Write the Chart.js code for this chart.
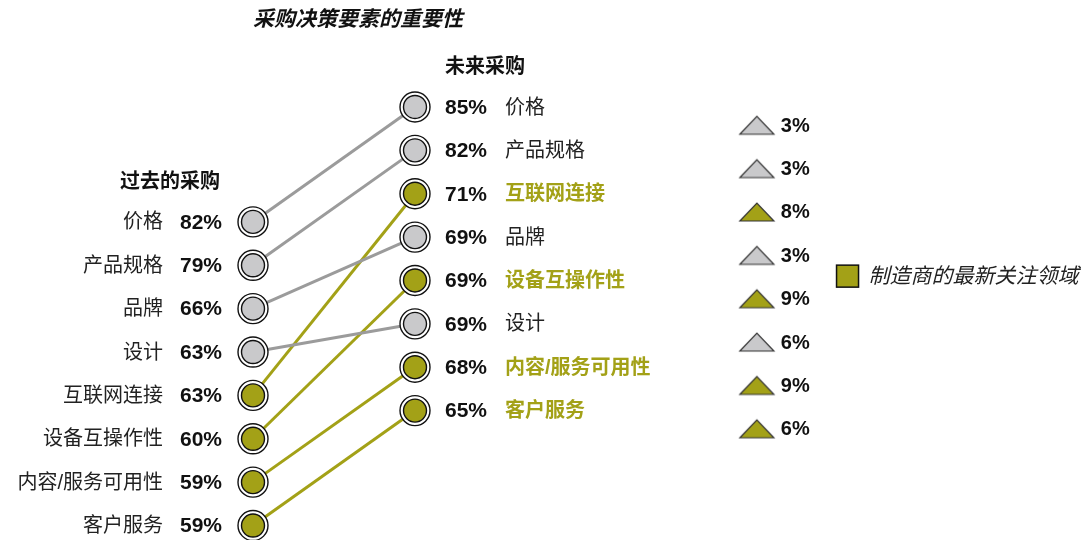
<!DOCTYPE html>
<html>
<head>
<meta charset="utf-8">
<script src="https://cdn.jsdelivr.net/npm/chart.js@4"></script>
<style>
  html, body { margin: 0; padding: 0; background: #fff; }
</style>
</head>
<body>
<canvas id="chart" width="1084" height="540"></canvas>
<script>
// data
const pastNames = ['价格', '产品规格', '品牌', '设计', '互联网连接', '设备互操作性', '内容/服务可用性', '客户服务'];
const pastValues = [82, 79, 66, 63, 63, 60, 59, 59];
const futureNames = ['价格', '产品规格', '互联网连接', '品牌', '设备互操作性', '设计', '内容/服务可用性', '客户服务'];
const futureValues = [85, 82, 71, 69, 69, 69, 68, 65];
const changeValues = [3, 3, 8, 3, 9, 6, 9, 6];
const focusItems = ['互联网连接', '设备互操作性', '内容/服务可用性', '客户服务'];

const OLIVE = '#a3a117';
const GREY = '#c9c9cb';
const FONT = '"Liberation Sans", "Noto Sans CJK SC", sans-serif';

// column / row layout in scale units
const COL_PAST = 0, COL_FUTURE = 1, COL_CHANGE = 3.11, COL_LEGEND = 3.67;
const PAST_OFFSET = 2.65;  // left column sits lower than the right one
const CHANGE_OFFSET = 0.42;

const isFocus = name => focusItems.includes(name);

function triangle(color) {
  const c = document.createElement('canvas');
  c.width = 38; c.height = 22;
  const g = c.getContext('2d');
  g.beginPath();
  g.moveTo(2, 20); g.lineTo(36, 20); g.lineTo(19, 2); g.closePath();
  g.fillStyle = color; g.fill();
  g.strokeStyle = '#333'; g.lineWidth = 1.2; g.stroke();
  return c;
}
const triGrey = triangle(GREY), triOlive = triangle(OLIVE);

// slope lines
const lineSets = pastNames.map((name, i) => {
  const j = futureNames.indexOf(name);
  return {
    type: 'line',
    data: [{x: COL_PAST, y: PAST_OFFSET + i}, {x: COL_FUTURE, y: j}],
    borderColor: isFocus(name) ? OLIVE : '#9b9b9b',
    borderWidth: 3,
    pointRadius: 0,
    order: 10,
    clip: false
  };
});

const allPoints = pastNames.map((n, i) => ({x: COL_PAST, y: PAST_OFFSET + i, name: n}))
  .concat(futureNames.map((n, j) => ({x: COL_FUTURE, y: j, name: n})));

const outerRing = {
  type: 'scatter',
  data: allPoints,
  pointRadius: 15,
  pointBackgroundColor: '#fff',
  pointBorderColor: '#111',
  pointBorderWidth: 1.4,
  order: 5,
  clip: false
};
const innerDot = {
  type: 'scatter',
  data: allPoints,
  pointRadius: 11.5,
  pointBackgroundColor: allPoints.map(p => isFocus(p.name) ? OLIVE : GREY),
  pointBorderColor: '#111',
  pointBorderWidth: 1.4,
  order: 4,
  clip: false
};
const changeMarks = {
  type: 'scatter',
  data: changeValues.map((v, j) => ({x: COL_CHANGE, y: j + CHANGE_OFFSET})),
  pointStyle: futureNames.map(n => isFocus(n) ? triOlive : triGrey),
  order: 3,
  clip: false
};

const labelPlugin = {
  id: 'labels',
  afterDatasetsDraw(chart) {
    const {ctx, scales: {x, y}} = chart;
    const px = x.getPixelForValue(COL_PAST), fx = x.getPixelForValue(COL_FUTURE);
    const cx = x.getPixelForValue(COL_CHANGE);
    ctx.save();
    ctx.textBaseline = 'middle';

    // title and column heads
    ctx.fillStyle = '#111';
    ctx.textAlign = 'center';
    ctx.font = 'italic bold 21px ' + FONT;
    ctx.fillText('采购决策要素的重要性', 358, y.getPixelForValue(-2.0));
    ctx.textAlign = 'left';
    ctx.font = 'bold 20px ' + FONT;
    ctx.fillText('未来采购', fx + 30, y.getPixelForValue(-0.9));
    ctx.textAlign = 'right';
    ctx.fillText('过去的采购', px - 33, y.getPixelForValue(PAST_OFFSET - 0.92));

    // left column
    pastNames.forEach((name, i) => {
      const yy = y.getPixelForValue(PAST_OFFSET + i) + 1;
      ctx.textAlign = 'right';
      ctx.fillStyle = '#111';
      ctx.font = 'bold 21px ' + FONT;
      ctx.fillText(pastValues[i] + '%', px - 31, yy);
      ctx.font = '20px ' + FONT;
      ctx.fillStyle = '#222';
      ctx.fillText(name, px - 90, yy);
    });

    // right column
    futureNames.forEach((name, j) => {
      const yy = y.getPixelForValue(j) + 1;
      ctx.textAlign = 'left';
      ctx.fillStyle = '#111';
      ctx.font = 'bold 21px ' + FONT;
      ctx.fillText(futureValues[j] + '%', fx + 30, yy);
      if (isFocus(name)) {
        ctx.fillStyle = OLIVE;
        ctx.font = 'bold 20px ' + FONT;
      } else {
        ctx.fillStyle = '#222';
        ctx.font = '20px ' + FONT;
      }
      ctx.fillText(name, fx + 90, yy);
    });

    // change values
    ctx.fillStyle = '#111';
    ctx.font = 'bold 20px ' + FONT;
    changeValues.forEach((v, j) => {
      ctx.fillText(v + '%', cx + 24, y.getPixelForValue(j + CHANGE_OFFSET) + 1);
    });

    // legend
    const lx = x.getPixelForValue(COL_LEGEND), ly = y.getPixelForValue(3.9);
    ctx.fillStyle = OLIVE;
    ctx.fillRect(lx - 11, ly - 11, 22, 22);
    ctx.strokeStyle = '#111';
    ctx.lineWidth = 1.5;
    ctx.strokeRect(lx - 11, ly - 11, 22, 22);
    ctx.fillStyle = '#222';
    ctx.font = 'italic 21px ' + FONT;
    ctx.fillText('制造商的最新关注领域', lx + 21, ly + 1);
    ctx.restore();
  }
};

new Chart(document.getElementById('chart'), {
  data: {datasets: [...lineSets, outerRing, innerDot, changeMarks]},
  options: {
    responsive: false,
    animation: false,
    layout: {padding: 0, autoPadding: false},
    plugins: {legend: {display: false}, tooltip: {enabled: false}},
    scales: {
      x: {type: 'linear', display: false, min: -1.5617, max: 5.1296},
      y: {type: 'linear', display: false, reverse: true, min: -2.467, max: 9.984}
    }
  },
  plugins: [labelPlugin]
});
</script>
</body>
</html>
